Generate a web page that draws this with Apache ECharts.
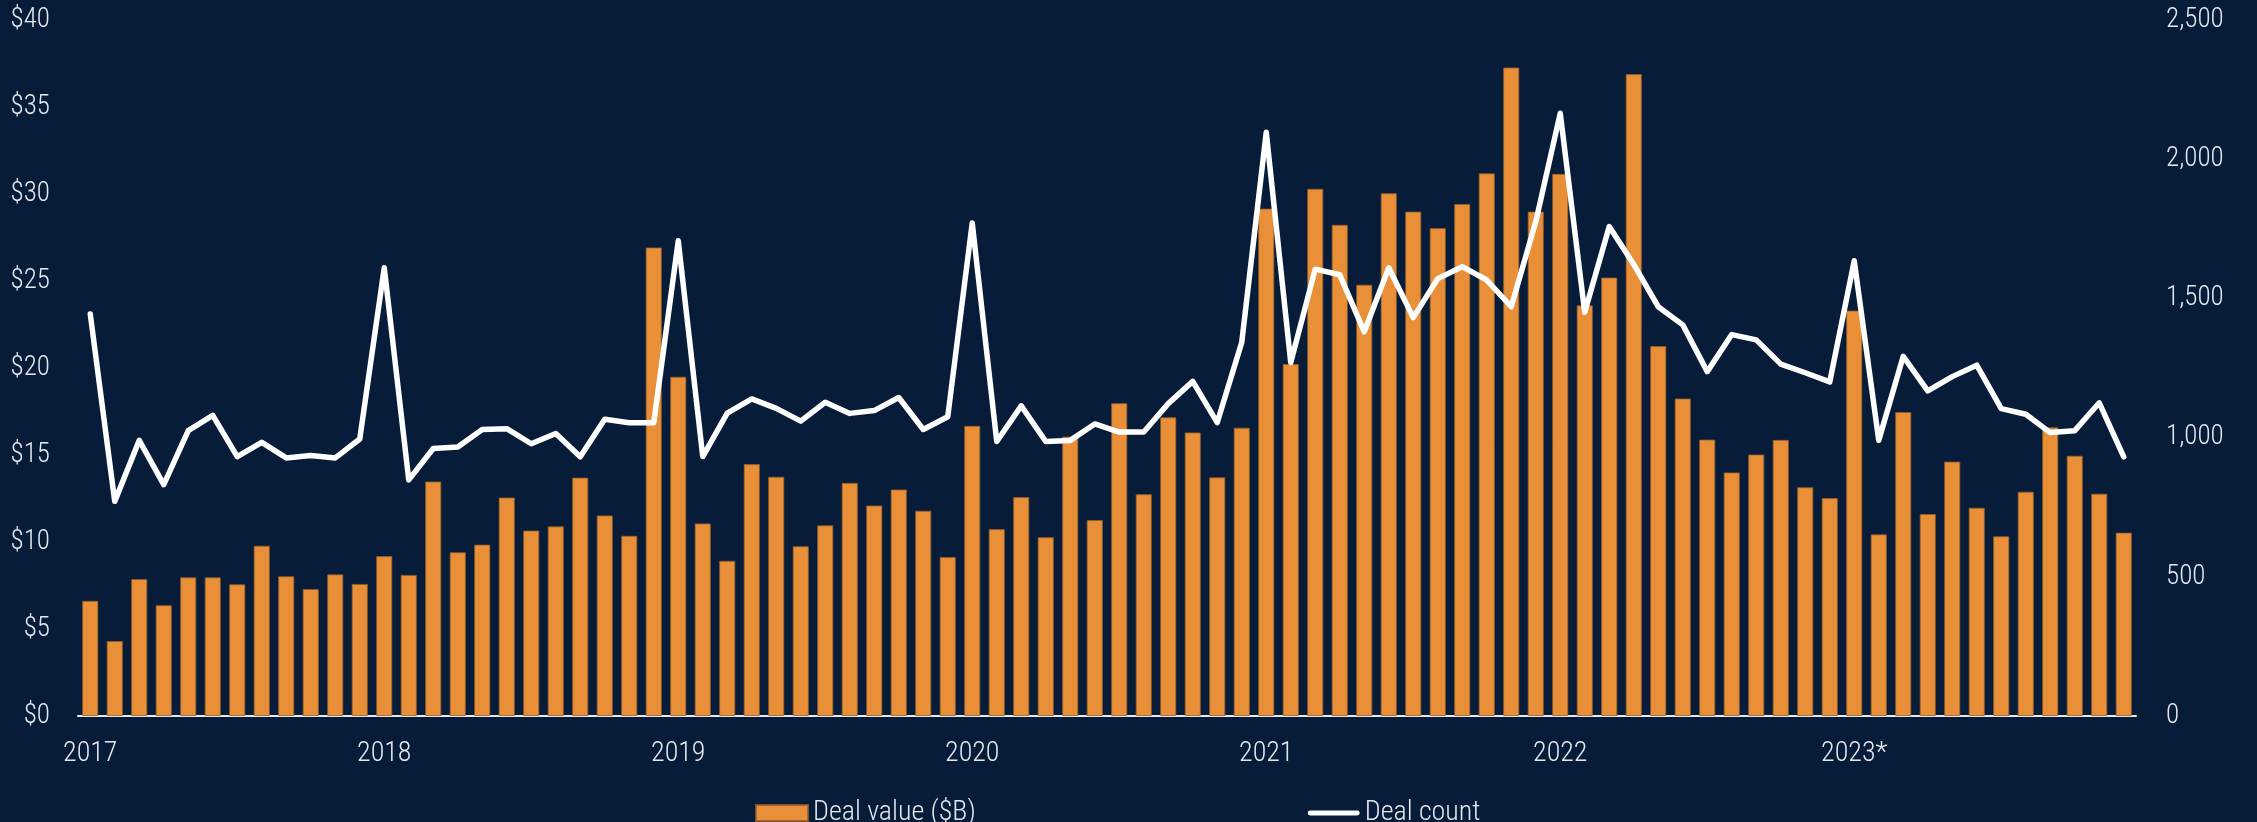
<!DOCTYPE html>
<html>
<head>
<meta charset="utf-8">
<script src="https://cdn.jsdelivr.net/npm/echarts@6/dist/echarts.min.js"></script>
<style>
  html, body { margin: 0; padding: 0; background: #061c38; }
  #chart { width: 2257px; height: 822px; }
</style>
</head>
<body>
<div id="chart"></div>
<script>
// monthly values, Jan 2017 .. Dec 2023
const years = ["2017", "2018", "2019", "2020", "2021", "2022", "2023"];
const months = ["Jan", "Feb", "Mar", "Apr", "May", "Jun", "Jul", "Aug", "Sep", "Oct", "Nov", "Dec"];
const yearLabels = ["2017", "2018", "2019", "2020", "2021", "2022", "2023*"];

const dealValue = [
  6.62, 4.31, 7.87, 6.37, 7.97, 7.97, 7.57, 9.79, 8.03, 7.30, 8.14, 7.59,
  9.19, 8.11, 13.48, 9.41, 9.85, 12.56, 10.66, 10.90, 13.70, 11.53, 10.36, 26.93,
  19.50, 11.07, 8.92, 14.48, 13.75, 9.76, 10.96, 13.40, 12.10, 13.02, 11.80, 9.14,
  16.68, 10.74, 12.58, 10.28, 16.06, 11.26, 17.98, 12.75, 17.17, 16.30, 13.72, 16.57,
  29.16, 20.23, 30.30, 28.23, 24.79, 30.05, 28.99, 28.04, 29.43, 31.19, 37.27, 28.99,
  31.16, 23.60, 25.20, 36.89, 21.26, 18.25, 15.89, 14.00, 15.03, 15.87, 13.15, 12.53,
  23.30, 10.44, 17.47, 11.61, 14.62, 11.97, 10.33, 12.89, 16.59, 14.96, 12.78, 10.54
];

const dealCount = [
  1444, 771, 990, 831, 1025, 1080, 932, 983, 927, 936, 927, 995,
  1610, 848, 961, 966, 1029, 1032, 978, 1015, 931, 1066, 1053, 1053,
  1707, 932, 1088, 1139, 1105, 1059, 1127, 1087, 1097, 1144, 1029, 1075,
  1771, 986, 1114, 986, 990, 1049, 1020, 1020, 1122, 1202, 1054, 1342,
  2097, 1270, 1605, 1585, 1380, 1610, 1431, 1571, 1614, 1566, 1470, 1775,
  2165, 1450, 1758, 1622, 1470, 1405, 1237, 1370, 1351, 1264, 1233, 1200,
  1635, 990, 1292, 1168, 1219, 1260, 1104, 1084, 1018, 1025, 1125, 931
];

const categories = [];
years.forEach((y) => months.forEach((m) => categories.push(m + " " + y)));

const FONT = "'Roboto Condensed', 'Liberation Sans Narrow', 'Arial Narrow', 'DejaVu Sans Condensed', sans-serif";
const TEXT = "#e4e7ee";

var chart = echarts.init(document.getElementById("chart"));

let option = {
  backgroundColor: "#061c38",
  animation: false,
  textStyle: { fontFamily: FONT, fontWeight: 300 },
  grid: {
    left: 78,
    right: 121,
    top: 20,
    bottom: 106,
  },
  legend: {
    left: 750,
    top: 794,
    itemGap: 332,
    itemWidth: 52,
    itemHeight: 16,
    textStyle: { color: TEXT, fontSize: 28, fontFamily: FONT, fontWeight: 300 },
    data: [
      { name: "Deal value ($B)", icon: "rect" },
      {
        name: "Deal count",
        icon: "path://M2,0 L50,0 A2.5,2.5 0 0 1 50,5 L2,5 A2.5,2.5 0 0 1 2,0 Z",
        itemStyle: { color: "#ffffff" },
      },
    ],
  },
  xAxis: {
    type: "category",
    data: categories,
    axisTick: { show: false },
    axisLine: { lineStyle: { color: "#e8e8e8", width: 2 } },
    axisLabel: {
      interval: 11,
      margin: 24,
      color: TEXT,
      fontSize: 28,
      fontFamily: FONT,
      fontWeight: 300,
      formatter: (value, index) => yearLabels[Math.floor(index / 12)],
    },
  },
  yAxis: [
    {
      type: "value",
      min: 0,
      max: 40,
      interval: 5,
      splitLine: { show: false },
      axisLine: { show: false },
      axisTick: { show: false },
      axisLabel: {
        margin: 28,
        color: TEXT,
        fontSize: 27,
        fontFamily: FONT,
        fontWeight: 300,
        formatter: (v) => "$" + v,
      },
    },
    {
      type: "value",
      min: 0,
      max: 2500,
      interval: 500,
      splitLine: { show: false },
      axisLine: { show: false },
      axisTick: { show: false },
      axisLabel: {
        margin: 30,
        color: TEXT,
        fontSize: 27,
        fontFamily: FONT,
        fontWeight: 300,
        formatter: (v) => v.toLocaleString("en-US"),
      },
    },
  ],
  series: [
    {
      name: "Deal value ($B)",
      type: "bar",
      yAxisIndex: 0,
      barWidth: "66%",
      data: dealValue,
      itemStyle: {
        color: "#e88f37",
        borderColor: "rgba(150,95,45,0.8)",
        borderWidth: 1,
      },
    },
    {
      name: "Deal count",
      type: "line",
      yAxisIndex: 1,
      data: dealCount,
      symbol: "none",
      lineStyle: { color: "#ffffff", width: 5.5, cap: "round", join: "round" },
      itemStyle: { color: "#ffffff" },
      z: 3,
    },
  ],
};

option && chart.setOption(option);
</script>
</body>
</html>
